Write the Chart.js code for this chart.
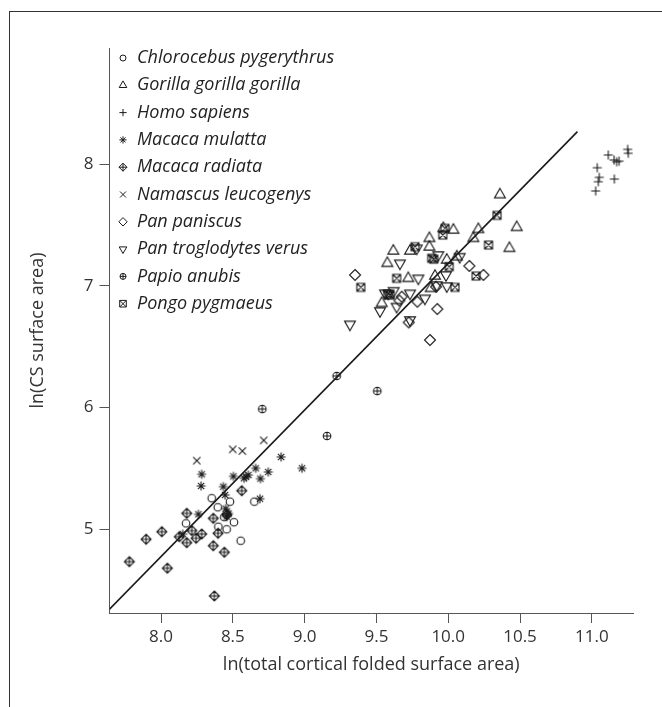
<!DOCTYPE html>
<html>
<head>
<meta charset="utf-8">
<script src="https://cdn.jsdelivr.net/npm/chart.js@4.4.0/dist/chart.umd.min.js"></script>
<style>
html, body { margin: 0; padding: 0; background: #fff; }
#wrap { position: relative; width: 662px; height: 707px; overflow: hidden; }
#frame { position: absolute; left: 9px; top: 11px; width: 700px; height: 800px;
  border-left: 1px solid #333; border-top: 1px solid #333; }
#chart { position: absolute; left: 0; top: 0; }
</style>
</head>
<body>
<div id="wrap">
  <div id="frame"></div>
  <canvas id="chart" width="662" height="707"></canvas>
</div>
<script>
// tick values
const xTicks = [8.0, 8.5, 9.0, 9.5, 10.0, 10.5, 11.0];
const yTicks = [5, 6, 7, 8];

// fitted line end points
const fitX = [7.641, 10.90];
const fitY = [4.343, 8.268];

// [ln(total cortical folded surface area), ln(CS surface area)]
const chlorocebus = [[8.353,5.255],[8.395,5.181],[8.48,5.227],[8.174,5.049],[8.399,5.021],[8.457,5.0],
  [8.508,5.058],[8.555,4.906],[8.65,5.227],[8.457,5.131],[8.44,5.10]];
const gorilla = [[10.36,7.75],[10.477,7.481],[10.426,7.309],[10.21,7.465],[10.175,7.391],[10.036,7.459],
  [9.966,7.473],[9.869,7.391],[9.869,7.32],[9.734,7.287],[9.618,7.287],[9.576,7.186],[9.722,7.062],
  [9.537,6.857],[9.99,7.213],[9.908,7.081],[9.878,6.98],[10.06,7.24]];
const homo = [[11.115,8.076],[11.155,8.035],[11.173,8.02],[11.19,8.025],[11.25,8.122],[11.254,8.09],
  [11.038,7.971],[11.052,7.892],[11.045,7.856],[11.027,7.78],[11.157,7.878]];
const mulatta = [[8.283,5.452],[8.279,5.356],[8.504,5.435],[8.434,5.35],[8.446,5.282],[8.578,5.419],
  [8.608,5.446],[8.659,5.501],[8.692,5.416],[8.747,5.471],[8.836,5.594],[8.982,5.501],[8.689,5.251],
  [8.26,5.123],[8.151,4.96],[8.457,5.104],[8.45,5.17],[8.47,5.13],[8.592,5.432]];
const radiata = [[7.779,4.734],[7.896,4.918],[8.005,4.98],[8.044,4.68],[8.127,4.939],[8.179,5.131],
  [8.179,4.89],[8.214,4.989],[8.244,4.926],[8.283,4.961],[8.364,5.09],[8.364,4.865],[8.397,4.967],
  [8.441,4.811],[8.371,4.452],[8.562,5.317],[8.458,5.118]];
const namascus = [[8.249,5.564],[8.499,5.657],[8.566,5.643],[8.715,5.731]];
const paniscus = [[9.351,7.09],[9.676,6.911],[9.785,6.87],[9.924,6.81],[9.873,6.555],[9.725,6.70],
  [10.147,7.164],[10.245,7.09],[9.915,6.993],[9.66,6.88]];
const troglodytes = [[9.316,6.684],[9.664,7.186],[9.792,7.062],[9.583,6.939],[9.56,6.94],[9.525,6.794],
  [9.641,6.83],[9.734,6.939],[9.838,6.898],[9.734,6.72],[9.92,7.007],[9.99,6.999],[9.781,7.309],
  [9.931,7.254],[10.08,7.24],[9.985,7.09],[9.62,6.96]];
const papio = [[8.705,5.988],[9.156,5.767],[9.223,6.26],[9.506,6.136]];
const pongo = [[10.34,7.58],[9.391,6.988],[9.641,7.062],[9.595,6.925],[9.58,6.93],[9.769,7.322],
  [9.885,7.227],[9.978,7.473],[9.962,7.418],[10.007,7.158],[10.047,6.988],[10.194,7.081],
  [10.281,7.336],[9.90,7.22]];

const species = [
  ['Chlorocebus pygerythrus', chlorocebus, 'circle'],
  ['Gorilla gorilla gorilla', gorilla, 'triangle'],
  ['Homo sapiens', homo, 'plus'],
  ['Macaca mulatta', mulatta, 'asterisk'],
  ['Macaca radiata', radiata, 'diamondplus'],
  ['Namascus leucogenys', namascus, 'x'],
  ['Pan paniscus', paniscus, 'diamond'],
  ['Pan troglodytes verus', troglodytes, 'invtriangle'],
  ['Papio anubis', papio, 'circleplus'],
  ['Pongo pygmaeus', pongo, 'squarex']
];

const ink = '#1a1a1a';
const font = '"Open Sans", "Noto Sans", sans-serif';

const plotSize = { circle: 3.8, triangle: 6.3, plus: 4.5, asterisk: 4.5, diamondplus: 5,
  x: 3.6, diamond: 5.5, invtriangle: 6.3, circleplus: 3.8, squarex: 4 };
const legendSize = { circle: 3, triangle: 4.4, plus: 3.6, asterisk: 3.6, diamondplus: 4,
  x: 3, diamond: 4.2, invtriangle: 4.4, circleplus: 3, squarex: 3.3 };

function drawSymbol(ctx, kind, cx, cy, r) {
  ctx.beginPath();
  if (kind === 'circle') {
    ctx.arc(cx, cy, r, 0, Math.PI * 2);
  } else if (kind === 'triangle' || kind === 'invtriangle') {
    const d = kind === 'triangle' ? 1 : -1;
    ctx.moveTo(cx, cy - d * r);
    ctx.lineTo(cx + r * 0.866, cy + d * r * 0.5);
    ctx.lineTo(cx - r * 0.866, cy + d * r * 0.5);
    ctx.closePath();
  } else if (kind === 'plus') {
    ctx.moveTo(cx - r, cy); ctx.lineTo(cx + r, cy);
    ctx.moveTo(cx, cy - r); ctx.lineTo(cx, cy + r);
  } else if (kind === 'asterisk') {
    for (let i = 0; i < 4; i++) {
      const a = i * Math.PI / 4;
      ctx.moveTo(cx - r * Math.cos(a), cy - r * Math.sin(a));
      ctx.lineTo(cx + r * Math.cos(a), cy + r * Math.sin(a));
    }
  } else if (kind === 'diamondplus' || kind === 'diamond') {
    ctx.moveTo(cx, cy - r); ctx.lineTo(cx + r, cy); ctx.lineTo(cx, cy + r); ctx.lineTo(cx - r, cy);
    ctx.closePath();
    if (kind === 'diamondplus') {
      ctx.moveTo(cx - r, cy); ctx.lineTo(cx + r, cy);
      ctx.moveTo(cx, cy - r); ctx.lineTo(cx, cy + r);
    }
  } else if (kind === 'x') {
    ctx.moveTo(cx - r, cy - r); ctx.lineTo(cx + r, cy + r);
    ctx.moveTo(cx + r, cy - r); ctx.lineTo(cx - r, cy + r);
  } else if (kind === 'circleplus') {
    ctx.arc(cx, cy, r, 0, Math.PI * 2);
    ctx.moveTo(cx - r, cy); ctx.lineTo(cx + r, cy);
    ctx.moveTo(cx, cy - r); ctx.lineTo(cx, cy + r);
  } else if (kind === 'squarex') {
    ctx.rect(cx - r, cy - r, 2 * r, 2 * r);
    ctx.moveTo(cx - r, cy - r); ctx.lineTo(cx + r, cy + r);
    ctx.moveTo(cx + r, cy - r); ctx.lineTo(cx - r, cy + r);
  }
  ctx.stroke();
}

function symbolCanvas(kind, r) {
  const n = 2 * Math.ceil(r + 2);
  const c = document.createElement('canvas');
  c.width = n; c.height = n;
  const g = c.getContext('2d');
  g.strokeStyle = ink;
  g.lineWidth = 1.1;
  drawSymbol(g, kind, n / 2, n / 2, r);
  return c;
}

const datasets = species.map(([name, pts, kind]) => ({
  label: name,
  data: pts.map(p => ({ x: p[0], y: p[1] })),
  pointStyle: symbolCanvas(kind, plotSize[kind]),
  pointRadius: 5
}));

datasets.push({
  type: 'line',
  label: 'fit',
  data: fitX.map((x, i) => ({ x: x, y: fitY[i] })),
  borderColor: ink,
  borderWidth: 1.6,
  pointRadius: 0,
  fill: false
});

const legendPlugin = {
  id: 'insideLegend',
  afterDraw(chart) {
    const ctx = chart.ctx;
    ctx.save();
    ctx.strokeStyle = ink;
    ctx.lineWidth = 1;
    ctx.fillStyle = '#222';
    ctx.font = 'italic 18px ' + font;
    ctx.textBaseline = 'middle';
    species.forEach(([name, pts, kind], i) => {
      const y = 58 + i * 27.3;
      drawSymbol(ctx, kind, 123, y, legendSize[kind]);
      ctx.fillText(name, 137, y);
    });
    ctx.restore();
  }
};

new Chart(document.getElementById('chart'), {
  type: 'scatter',
  data: { datasets: datasets },
  plugins: [legendPlugin],
  options: {
    responsive: false,
    animation: false,
    layout: { padding: { top: 48, right: 29, left: 0, bottom: 0 } },
    plugins: { legend: { display: false }, tooltip: { enabled: false } },
    scales: {
      x: {
        type: 'linear',
        min: 7.641,
        max: 11.287,
        afterBuildTicks: s => { s.ticks = xTicks.map(v => ({ value: v })); },
        afterFit: s => { s.height = 94; },
        border: { color: '#555', width: 1 },
        grid: { drawOnChartArea: false, drawTicks: true, tickLength: 10, color: '#555' },
        ticks: { color: '#333', font: { family: font, size: 17 }, padding: 4,
          callback: v => Number(v).toFixed(1) },
        title: { display: true, text: 'ln(total cortical folded surface area)', color: '#333',
          font: { family: font, size: 18 }, padding: { top: 0, bottom: 31 } }
      },
      y: {
        type: 'linear',
        min: 4.312,
        max: 8.955,
        afterBuildTicks: s => { s.ticks = yTicks.map(v => ({ value: v })); },
        afterFit: s => { s.width = 109.5; },
        border: { color: '#555', width: 1 },
        grid: { drawOnChartArea: false, drawTicks: true, tickLength: 10, color: '#555' },
        ticks: { color: '#333', font: { family: font, size: 17 }, padding: 6 },
        title: { display: true, text: 'ln(CS surface area)', color: '#333',
          font: { family: font, size: 18 }, padding: { top: 27, bottom: 0 } }
      }
    }
  }
});
</script>
</body>
</html>
